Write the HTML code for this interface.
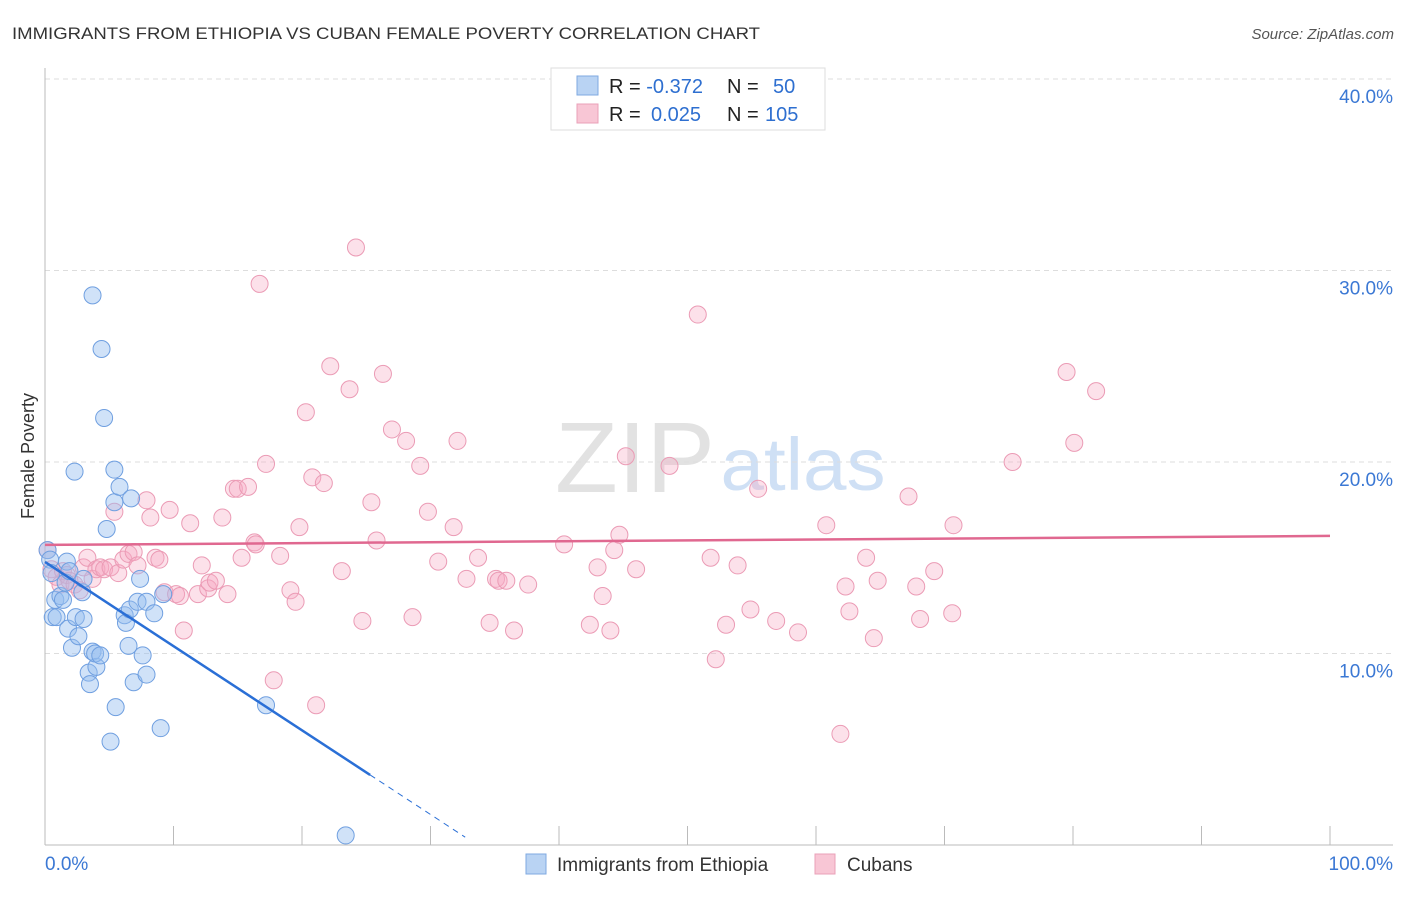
<!DOCTYPE html>
<html><head><meta charset="utf-8"><style>
body{margin:0;background:#fff;font-family:"Liberation Sans",sans-serif;}
svg text{font-family:"Liberation Sans",sans-serif;}
</style></head><body>
<svg width="1406" height="892" xmlns="http://www.w3.org/2000/svg" id="chart">
<text x="12" y="39" font-size="17" fill="#333" textLength="748" lengthAdjust="spacingAndGlyphs">IMMIGRANTS FROM ETHIOPIA VS CUBAN FEMALE POVERTY CORRELATION CHART</text>
<text x="1394" y="39" font-size="15" fill="#555" text-anchor="end" font-style="italic">Source: ZipAtlas.com</text>
<g>
<text x="635" y="492" font-size="100" fill="#e2e2e2" font-family="Liberation Serif" text-anchor="middle" textLength="160" lengthAdjust="spacingAndGlyphs">ZIP</text>
<text x="803" y="490" font-size="74" fill="#cfe0f5" text-anchor="middle" textLength="165" lengthAdjust="spacingAndGlyphs">atlas</text>
</g>
<g id="grid"></g>
<line x1="45" y1="68" x2="45" y2="845" stroke="#bbb"/>
<line x1="45" y1="845" x2="1393" y2="845" stroke="#bbb"/>
<text transform="translate(34,456) rotate(-90)" font-size="18" fill="#333" text-anchor="middle">Female Poverty</text>
<g id="pts"></g>
<g id="lines"></g>
<g>
<rect x="551" y="68" width="274" height="62" fill="#fff" stroke="#ddd"/>
<rect x="577" y="76" width="21" height="19" fill="#b9d3f3" stroke="#7fa9e0"/>
<rect x="577" y="104" width="21" height="19" fill="#f8c6d5" stroke="#eaa0b8"/>
<text x="609" y="93" font-size="20" fill="#222">R = <tspan fill="#2e6fd0">-0.372</tspan><tspan x="727">N = </tspan><tspan x="773" fill="#2e6fd0">50</tspan></text>
<text x="609" y="121" font-size="20" fill="#222">R = <tspan x="651" fill="#2e6fd0">0.025</tspan><tspan x="727">N = </tspan><tspan x="765" fill="#2e6fd0">105</tspan></text>
</g>
<g>
<rect x="526" y="854" width="20" height="20" fill="#b9d3f3" stroke="#7fa9e0"/>
<text x="557" y="871" font-size="19" fill="#333">Immigrants from Ethiopia</text>
<rect x="815" y="854" width="20" height="20" fill="#f8c6d5" stroke="#eaa0b8"/>
<text x="847" y="871" font-size="19" fill="#333">Cubans</text>
</g>
</svg>
<script>
const yTicks=[10,20,30,40];
const xTickVals=[0,10,20,30,40,50,60,70,80,90,100];
const xLabels=["0.0%","100.0%"];
const blueX=[0.2,0.4,0.5,0.8,0.6,0.9,1.2,1.4,1.6,1.7,1.8,1.9,2.1,2.3,2.4,2.6,2.9,3.0,3.0,3.4,3.5,3.7,3.7,4.0,3.9,4.3,4.4,4.6,4.8,5.4,5.4,5.5,5.1,5.8,6.2,6.3,6.5,6.6,6.7,6.9,7.2,7.4,7.6,7.9,7.9,8.5,9.0,9.2,17.2,23.4];
const blueY=[15.4,14.9,14.2,12.8,11.9,11.9,13.0,12.8,13.7,14.8,11.3,14.3,10.3,19.5,11.9,10.9,13.2,13.9,11.8,9.0,8.4,28.7,10.1,9.3,10.0,9.9,25.9,22.3,16.5,19.6,17.9,7.2,5.4,18.7,12.0,11.6,10.4,12.3,18.1,8.5,12.7,13.9,9.9,8.9,12.7,12.1,6.1,13.1,7.3,0.5];
const pinkX=[0.2,0.5,0.9,1.2,1.4,1.7,1.9,2.3,2.7,3.0,3.3,3.7,4.0,4.3,4.6,5.1,5.4,5.7,6.1,6.5,6.9,7.2,7.9,8.2,8.6,8.9,9.3,9.7,10.2,10.5,10.8,11.3,11.9,12.2,12.7,12.8,13.3,13.8,14.2,14.7,15.0,15.3,15.8,16.3,16.4,16.7,17.2,17.8,18.3,19.1,19.5,19.8,20.3,20.8,21.1,21.7,22.2,23.1,23.7,24.2,24.7,25.4,25.8,26.3,27.0,28.1,28.6,29.2,29.8,30.6,31.8,32.1,32.8,33.7,34.6,35.1,35.3,35.9,36.5,37.6,40.4,42.4,43.0,43.4,44.0,44.3,44.7,45.2,46.0,48.6,50.8,51.8,52.2,53.0,53.9,54.9,55.5,56.9,58.6,60.8,61.9,62.3,62.6,63.9,64.5,64.8,67.2,67.8,68.1,69.2,70.6,70.7,75.3,79.5,80.1,81.8];
const pinkY=[15.4,14.4,14.0,13.6,14.3,14.1,13.8,13.6,13.3,14.5,15.0,13.9,14.4,14.5,14.4,14.5,17.4,14.2,14.9,15.2,15.3,14.6,18.0,17.1,15.0,14.9,13.2,17.5,13.1,13.0,11.2,16.8,13.1,14.6,13.4,13.7,13.8,17.1,13.1,18.6,18.6,15.0,18.7,15.8,15.7,29.3,19.9,8.6,15.1,13.3,12.7,16.6,22.6,19.2,7.3,18.9,25.0,14.3,23.8,31.2,11.7,17.9,15.9,24.6,21.7,21.1,11.9,19.8,17.4,14.8,16.6,21.1,13.9,15.0,11.6,13.9,13.8,13.8,11.2,13.6,15.7,11.5,14.5,13.0,11.2,15.4,16.2,20.3,14.4,19.8,27.7,15.0,9.7,11.5,14.6,12.3,18.6,11.7,11.1,16.7,5.8,13.5,12.2,15.0,10.8,13.8,18.2,13.5,11.8,14.3,12.1,16.7,20.0,24.7,21.0,23.7];
const blueLine=[0,14.78,25.3,3.66,32.7];
const pinkLine=[0,15.67,100,16.14];
const NS="http://www.w3.org/2000/svg";
const sx=v=>45+v*12.85, sy=v=>845-v*19.15;
function mk(t,a,p){const e=document.createElementNS(NS,t);for(const k in a)e.setAttribute(k,a[k]);p.appendChild(e);return e;}
const grid=document.getElementById('grid');
mk('line',{x1:45,x2:1393,y1:sy(40),y2:sy(40),stroke:'#ddd','stroke-dasharray':'5,4'},grid);
yTicks.forEach(t=>{
 const l=mk('line',{x1:45,x2:1393,y1:sy(t),y2:sy(t),stroke:'#ddd','stroke-dasharray':'5,4'},grid);
 
 
 const tx=mk('text',{x:1393,y:sy(t)+24,'font-size':19,fill:'#3b78d4','text-anchor':'end'},grid);
 tx.textContent=t.toFixed(1)+'%';
 
 
});
xTickVals.forEach(t=>{
 const l=mk('line',{x1:sx(t),x2:sx(t),y1:826,y2:845,stroke:'#bbb'},grid);
 
 
});
[[0,'start'],[100,'end']].forEach((d,i)=>{
 const tx=mk('text',{x:sx(d[0])+(i?63:0),y:870,'font-size':19,fill:'#3b78d4','text-anchor':i?'end':'start'},grid);
 tx.textContent=xLabels[i];
 
 
});
const pts=document.getElementById('pts');
pinkX.forEach((x,i)=>{
 const c=mk('circle',{cx:sx(x),cy:sy(pinkY[i]),r:8.5,fill:'rgba(245,170,195,0.35)',stroke:'#eb9bb5','stroke-width':1},pts);
 
 
});
blueX.forEach((x,i)=>{
 const c=mk('circle',{cx:sx(x),cy:sy(blueY[i]),r:8.5,fill:'rgba(150,190,240,0.45)',stroke:'#6f9fe0','stroke-width':1},pts);
 
 
});
const ln=document.getElementById('lines');
const slope=(blueLine[3]-blueLine[1])/(blueLine[2]-blueLine[0]);
const b1=mk('line',{x1:sx(blueLine[0]),y1:sy(blueLine[1]),x2:sx(blueLine[2]),y2:sy(blueLine[3]),stroke:'#2a6fd6','stroke-width':2.5},ln);


const b2=mk('line',{x1:sx(blueLine[2]),y1:sy(blueLine[3]),x2:sx(blueLine[4]),y2:sy(blueLine[1]+slope*blueLine[4]),stroke:'#2a6fd6','stroke-width':1,'stroke-dasharray':'6,5'},ln);


const p1=mk('line',{x1:sx(pinkLine[0]),y1:sy(pinkLine[1]),x2:sx(pinkLine[2]),y2:sy(pinkLine[3]),stroke:'#e06890','stroke-width':2.5},ln);


</script>
</body></html>
